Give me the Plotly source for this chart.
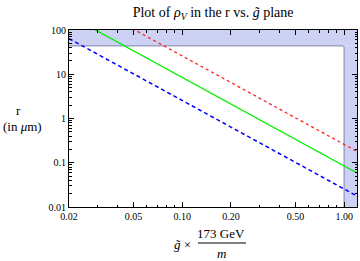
import plotly.graph_objects as go

# data
g_vals = [0.02, 0.05, 0.1, 0.2, 0.5, 1.0, 1.2]
r_red = [650, 104, 26, 6.5, 1.04, 0.26, 0.18]
r_green = [212, 34, 8.5, 2.1, 0.34, 0.085, 0.059]
r_blue = [64, 10.2, 2.55, 0.64, 0.102, 0.0255, 0.0177]

# excluded region boundaries
r_limit = 44
g_limit = 1.0
x_range = [0.02, 1.2]
y_range = [0.01, 100]

x_ticks = [0.02, 0.05, 0.1, 0.2, 0.5, 1.0]
x_tick_text = ["0.02", "0.05", "0.10", "0.20", "0.50", "1.00"]
y_ticks = [0.01, 0.1, 1, 10, 100]
y_tick_text = ["0.01", "0.1", "1", "10", "100"]

x_minor = [0.03, 0.04, 0.06, 0.07, 0.08, 0.09, 0.3, 0.4, 0.6, 0.7, 0.8, 0.9]
y_minor = [m * 10 ** e for e in range(-2, 2) for m in range(2, 10)]

font = "Liberation Serif"
band = "#cdd1f4"
edge = "#9ea2c4"

fig = go.Figure()
fig.add_trace(go.Scatter(x=g_vals, y=r_red, mode="lines",
                         line=dict(color="#ff2020", width=1.3, dash="dot")))
fig.add_trace(go.Scatter(x=g_vals, y=r_green, mode="lines",
                         line=dict(color="#00ee00", width=1.3)))
fig.add_trace(go.Scatter(x=g_vals, y=r_blue, mode="lines",
                         line=dict(color="#0000ff", width=1.5, dash="4px,3px")))

# shaded bands
fig.add_shape(type="rect", xref="x", yref="y", x0=x_range[0], x1=x_range[1],
              y0=r_limit, y1=y_range[1], fillcolor=band, line_width=0, layer="below")
fig.add_shape(type="rect", xref="x", yref="y", x0=g_limit, x1=x_range[1],
              y0=y_range[0], y1=r_limit, fillcolor=band, line_width=0, layer="below")
fig.add_shape(type="path", xref="x", yref="y", layer="below",
              path=f"M {x_range[0]},{r_limit} L 0.96,{r_limit} Q {g_limit},{r_limit} {g_limit},40 L {g_limit},{y_range[0]}",
              line=dict(color=edge, width=1.5))

fig.update_layout(
    template="none",
    width=360, height=261,
    margin=dict(l=69, r=3, t=30, b=54),
    paper_bgcolor="white", plot_bgcolor="white",
    showlegend=False,
    font=dict(family=font, size=10, color="black"),
    title=dict(text="Plot of <i>ρ</i><sub><i>V</i></sub> in the r vs. <i>g\u0303</i> plane",
               x=0.592, xanchor="center", y=0.955, yanchor="middle",
               font=dict(family=font, size=14, color="black")),
)
fig.update_xaxes(type="log", range=[-1.69897, 0.07918], tickvals=x_ticks, ticktext=x_tick_text,
                 automargin=False,
                 ticks="inside", ticklen=5, tickcolor="black", showline=True, linecolor="black",
                 linewidth=1, mirror="allticks", showgrid=False, zeroline=False,
                 minor=dict(tickvals=x_minor, ticks="inside", ticklen=2.5, tickcolor="black", showgrid=False))
fig.update_yaxes(type="log", range=[-2, 2], tickvals=y_ticks, ticktext=y_tick_text,
                 automargin=False,
                 ticks="inside", ticklen=5, tickcolor="black", showline=True, linecolor="black",
                 linewidth=1, mirror="allticks", showgrid=False, zeroline=False,
                 minor=dict(tickvals=y_minor, ticks="inside", ticklen=2.5, tickcolor="black", showgrid=False))

# axis titles
def px_ann(px, py, text):
    fig.add_annotation(xref="paper", yref="paper", x=(px - 69) / 288, y=(207 - py) / 177,
                       xanchor="center", yanchor="middle", text=text, showarrow=False,
                       font=dict(family=font, size=13, color="black"))

px_ann(18, 110, "r")
px_ann(22, 127, "(in <i>μ</i>m)")
px_ann(182, 244, "<i>g\u0303</i> ×")
px_ann(221, 233, "173 GeV")
px_ann(221, 253, "<i>m</i>")
fig.add_shape(type="line", xref="paper", yref="paper", x0=(198 - 69) / 288, x1=(246 - 69) / 288,
              y0=(207 - 243) / 177, y1=(207 - 243) / 177, line=dict(color="black", width=1))

fig.write_html("out.html", config={"displayModeBar": False},
               post_script="document.body.style.margin='0';")
